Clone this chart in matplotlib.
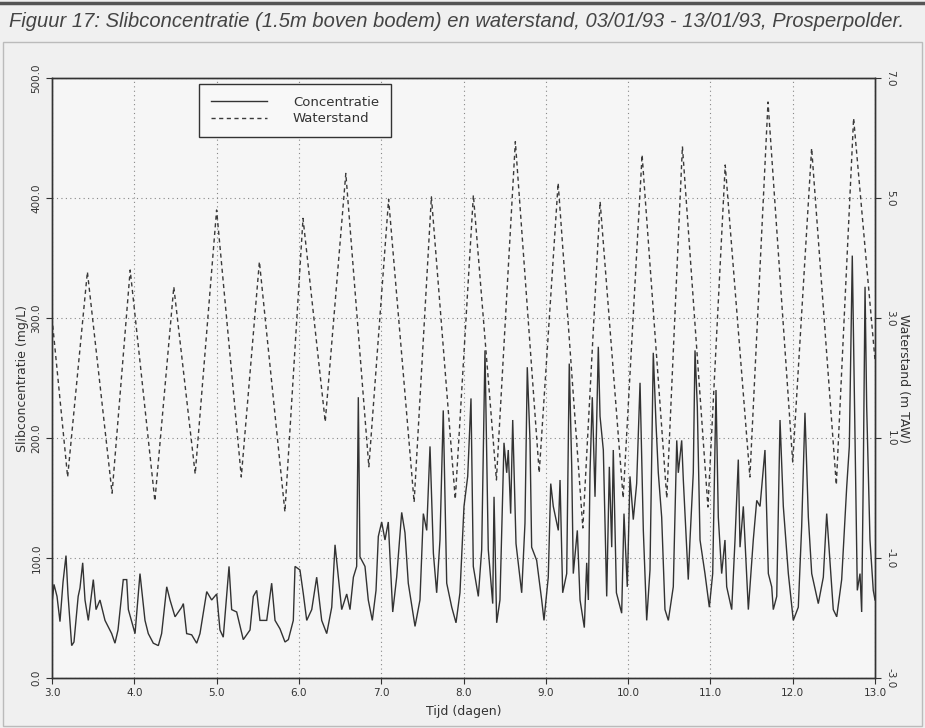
import matplotlib
matplotlib.use("Agg")
import matplotlib.pyplot as plt
from matplotlib.lines import Line2D
from matplotlib.patches import Rectangle

# waterstand: hoog- en laagwaters (dag, m TAW)
ws_days = [3.00, 3.19, 3.43, 3.73, 3.95, 4.25, 4.48, 4.74, 5.00, 5.30,
           5.52, 5.83, 6.05, 6.32, 6.57, 6.85, 7.09, 7.40, 7.61, 7.90,
           8.12, 8.40, 8.63, 8.92, 9.15, 9.45, 9.66, 9.94, 10.17, 10.47,
           10.66, 10.97, 11.18, 11.48, 11.70, 12.00, 12.23, 12.53, 12.74, 13.00]
ws_vals = [3.0, 0.35, 3.77, 0.08, 3.80, -0.05, 3.52, 0.40, 4.80, 0.35,
           3.94, -0.23, 4.66, 1.27, 5.41, 0.52, 4.98, -0.07, 5.02, -0.02,
           5.05, 0.30, 5.94, 0.42, 5.25, -0.50, 4.94, 0.00, 5.72, 0.00,
           5.86, -0.15, 5.55, 0.35, 6.60, 0.60, 5.83, 0.22, 6.33, 2.30]

# slibconcentratie (dag, mg/L)
conc_days = [
    3.000, 3.024, 3.061, 3.097, 3.134, 3.170, 3.194, 3.239, 3.267, 3.318,
    3.340, 3.373, 3.401, 3.441, 3.502, 3.535, 3.583, 3.644, 3.725, 3.765,
    3.802, 3.866, 3.908, 3.928, 4.009, 4.069, 4.130, 4.170, 4.231, 4.292,
    4.332, 4.394, 4.434, 4.495, 4.576, 4.596, 4.636, 4.697, 4.758, 4.798,
    4.880, 4.940, 5.001, 5.041, 5.081, 5.151, 5.183, 5.244, 5.324, 5.406,
    5.446, 5.487, 5.527, 5.609, 5.669, 5.710, 5.770, 5.831, 5.872, 5.932,
    5.953, 6.013, 6.054, 6.095, 6.156, 6.216, 6.277, 6.338, 6.399, 6.439,
    6.479, 6.520, 6.581, 6.621, 6.662, 6.702, 6.722, 6.742, 6.803, 6.843,
    6.892, 6.937, 6.965, 7.006, 7.046, 7.086, 7.140, 7.188, 7.249, 7.289,
    7.329, 7.411, 7.471, 7.512, 7.553, 7.593, 7.634, 7.674, 7.714, 7.754,
    7.796, 7.857, 7.909, 7.957, 8.006, 8.051, 8.091, 8.119, 8.180, 8.221,
    8.261, 8.301, 8.355, 8.371, 8.403, 8.443, 8.492, 8.525, 8.544, 8.573,
    8.598, 8.638, 8.707, 8.747, 8.775, 8.808, 8.828, 8.889, 8.950, 8.978,
    9.030, 9.060, 9.091, 9.152, 9.173, 9.205, 9.254, 9.285, 9.315, 9.334,
    9.383, 9.416, 9.468, 9.497, 9.517, 9.537, 9.565, 9.598, 9.638, 9.659,
    9.699, 9.740, 9.772, 9.801, 9.820, 9.858, 9.922, 9.950, 9.990, 10.023,
    10.063, 10.104, 10.145, 10.185, 10.226, 10.266, 10.306, 10.339, 10.367, 10.408,
    10.448, 10.489, 10.549, 10.591, 10.610, 10.651, 10.671, 10.731, 10.752, 10.792,
    10.813, 10.841, 10.874, 10.934, 10.987, 11.028, 11.068, 11.096, 11.137, 11.177,
    11.198, 11.259, 11.299, 11.339, 11.360, 11.400, 11.461, 11.521, 11.563, 11.603,
    11.663, 11.704, 11.745, 11.764, 11.806, 11.846, 11.886, 11.947, 12.007, 12.068,
    12.109, 12.149, 12.190, 12.231, 12.311, 12.372, 12.413, 12.493, 12.535, 12.595,
    12.656, 12.688, 12.724, 12.757, 12.785, 12.818, 12.838, 12.858, 12.879, 12.899,
    12.939, 12.979, 13.000]
conc_vals = [
    62, 78, 68, 47, 80, 102, 70, 27, 30, 68,
    75, 96, 65, 48, 82, 57, 65, 48, 37, 29,
    40, 82, 82, 57, 37, 87, 48, 37, 29, 27,
    37, 76, 65, 51, 59, 62, 37, 36, 29, 37,
    72, 65, 70, 40, 34, 93, 57, 55, 32, 40,
    68, 73, 48, 48, 79, 48, 41, 30, 32, 48,
    93, 90, 70, 48, 57, 84, 48, 37, 59, 111,
    84, 57, 70, 57, 84, 93, 234, 101, 93, 65,
    48, 73, 118, 130, 115, 130, 55, 84, 138, 121,
    79, 43, 65, 137, 123, 193, 104, 71, 115, 223,
    79, 59, 46, 71, 143, 168, 233, 93, 68, 107,
    273, 107, 62, 151, 46, 65, 196, 171, 190, 137,
    215, 112, 71, 129, 259, 198, 109, 98, 65, 48,
    84, 162, 143, 123, 165, 71, 87, 262, 176, 87,
    123, 65, 42, 96, 65, 171, 234, 151, 276, 218,
    190, 68, 176, 109, 190, 71, 54, 137, 76, 168,
    132, 162, 246, 123, 48, 90, 271, 212, 171, 134,
    57, 48, 76, 198, 171, 198, 165, 82, 115, 171,
    273, 226, 115, 87, 59, 87, 240, 134, 87, 115,
    76, 57, 115, 182, 109, 143, 57, 115, 148, 143,
    190, 87, 76, 57, 68, 215, 143, 87, 48, 59,
    126, 221, 134, 87, 62, 84, 137, 57, 51, 82,
    159, 193, 352, 198, 73, 87, 55, 171, 326, 226,
    115, 73, 65]

x_ticks = [3.0, 4.0, 5.0, 6.0, 7.0, 8.0, 9.0, 10.0, 11.0, 12.0, 13.0]
c_ticks = [0.0, 100.0, 200.0, 300.0, 400.0, 500.0]
w_ticks = [-3.0, -1.0, 1.0, 3.0, 5.0, 7.0]

ink = "#333333"
fig = plt.figure(figsize=(9.25, 7.28), dpi=100, facecolor="#f0f0f0")

# kader rond de figuur
fig.add_artist(Line2D([0, 1], [0.996, 0.996], color="#555555", lw=2.5, transform=fig.transFigure))
fig.add_artist(Rectangle((0.003, 0.003), 0.994, 0.939, transform=fig.transFigure,
                         facecolor="none", edgecolor="#bbbbbb", lw=1.0))
fig.text(0.010, 0.970,
         "Figuur 17: Slibconcentratie (1.5m boven bodem) en waterstand, 03/01/93 - 13/01/93, Prosperpolder.",
         ha="left", va="center", fontsize=14.5, style="italic", color="#444444",
         family=["Liberation Sans", "DejaVu Sans"])

ax = fig.add_axes([52 / 925, 50 / 728, 823 / 925, 600 / 728])
ax.set_facecolor("#f6f6f6")
ax.plot(conc_days, conc_vals, color="#333333", lw=1.0, solid_joinstyle="miter")
ax.set_xlim(3, 13)
ax.set_ylim(0, 500)
ax.set_xticks(x_ticks)
ax.set_yticks(c_ticks)
ax.set_xticklabels([f"{v:.1f}" for v in x_ticks])
ax.set_yticklabels([f"{v:.1f}" for v in c_ticks], rotation=90, va="center")
ax.grid(True, linestyle=(0, (1, 3)), color="#888888", lw=0.8)
ax.set_axisbelow(True)

ax2 = ax.twinx()
ax2.plot(ws_days, ws_vals, color="#3a3a3a", lw=1.0, linestyle=(0, (3, 2.5)))
ax2.set_ylim(-3, 7)
ax2.set_yticks(w_ticks)
ax2.set_yticklabels([f"{v:.1f}" for v in w_ticks], rotation=-90, va="center")

for a in (ax, ax2):
    for s in a.spines.values():
        s.set_color(ink)
        s.set_linewidth(1.0)
    a.tick_params(direction="out", length=4, width=0.8, colors=ink, labelsize=7.5)

ax.set_xlabel("Tijd (dagen)", fontsize=9, color=ink)
ax.set_ylabel("Slibconcentratie (mg/L)", fontsize=9, color=ink)
ax2.set_ylabel("Waterstand (m TAW)", fontsize=9, color=ink, rotation=-90,
               rotation_mode="anchor", ha="center", va="bottom")
ax.xaxis.set_label_coords(0.5, -0.045)
ax.yaxis.set_label_coords(-0.028, 0.5)
ax2.yaxis.set_label_coords(1.027, 0.5)

handles = [Line2D([], [], color="#333333", lw=1.0),
           Line2D([], [], color="#3a3a3a", lw=1.0, linestyle=(0, (3, 2.5)))]
leg = ax2.legend(handles, ["Concentratie", "Waterstand"], loc="upper left",
                 bbox_to_anchor=(0.179, 0.99), borderaxespad=0, fontsize=9.5,
                 handlelength=4.2, handletextpad=2.0, borderpad=0.9, labelspacing=0.25,
                 fancybox=False, framealpha=1, edgecolor=ink, facecolor="#f8f8f8")
leg.get_frame().set_linewidth(1.0)
for t in leg.get_texts():
    t.set_color(ink)

fig.savefig("out.png", dpi=100, facecolor=fig.get_facecolor())
